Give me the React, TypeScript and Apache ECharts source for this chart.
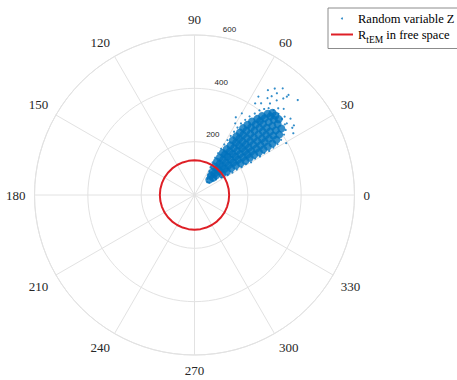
import React, { useEffect, useRef } from "react";
import * as echarts from "echarts";

// ---- data ----
const angleTickStep = 30;
const radiusMax = 600;
const radiusTickStep = 200;
const rTEM = 130; // radius of R_tEM circle in free space
const circleAngles = [0, 10, 20, 30, 40, 50, 60, 70, 80, 90, 100, 110, 120, 130, 140, 150, 160, 170, 180, 190, 200, 210, 220, 230, 240, 250, 260, 270, 280, 290, 300, 310, 320, 330, 340, 350, 360];

// dense core of the random variable Z cloud: [radius, angle(deg)]
const zCore: [number, number][] = [
  [80, 46],
  [95, 43], [95, 50],
  [110, 42], [110, 47], [110, 52],
  [130, 37], [130, 43], [130, 49], [130, 55],
  [150, 36], [150, 41], [150, 46], [150, 51], [150, 56],
  [170, 36], [170, 41], [170, 46], [170, 51], [170, 56],
  [190, 35.5], [190, 40], [190, 44.5], [190, 49], [190, 53], [190, 56],
  [210, 34.5], [210, 39], [210, 43], [210, 47], [210, 51], [210, 55],
  [230, 34], [230, 38], [230, 42], [230, 46], [230, 50], [230, 54],
  [250, 34], [250, 37.5], [250, 41], [250, 44.5], [250, 48], [250, 51.5], [250, 55],
  [270, 34], [270, 37.5], [270, 41], [270, 44.5], [270, 48], [270, 51.5], [270, 54.5],
  [290, 33.5], [290, 37], [290, 40.5], [290, 44], [290, 47.5], [290, 51], [290, 54],
  [310, 33.5], [310, 37], [310, 40.5], [310, 44], [310, 47.5], [310, 51], [310, 54],
  [330, 33.5], [330, 37], [330, 40], [330, 43.5], [330, 47], [330, 50], [330, 53],
  [350, 33.5], [350, 37], [350, 40], [350, 43], [350, 46], [350, 49], [350, 52],
  [370, 34], [370, 37], [370, 40], [370, 43], [370, 46], [370, 48.5], [370, 50.5],
  [390, 35.5], [390, 38.5], [390, 41.5], [390, 44.5], [390, 47.5], [390, 49.5],
  [410, 37.5], [410, 40.5], [410, 43.5], [410, 46], [410, 48],
  [425, 42], [425, 44.5], [425, 46.5],
];

// sparse fringe and outliers of the cloud: [radius, angle(deg)]
const zFringe: [number, number][] = [
  [68, 45], [72, 40], [78, 51], [88, 38], [92, 55], [100, 36],
  [120, 33], [145, 31], [165, 30.5], [185, 31], [205, 30.5], [225, 31], [245, 30], [265, 31],
  [285, 30.5], [305, 31], [325, 30.5], [345, 31], [365, 31.5], [385, 32.5], [405, 34],
  [105, 58], [120, 60], [140, 61], [160, 61], [180, 60.5], [200, 60], [220, 59.5], [240, 59],
  [260, 58.5], [280, 58], [300, 57.5], [320, 57], [340, 56], [360, 55], [380, 53.5], [400, 52.5], [415, 51],
  [420, 35.5], [430, 38], [435, 41], [438, 44], [435, 47], [428, 49.5],
  [440, 57], [491, 51], [519, 50.4], [515, 46.8], [492, 47.4], [437, 32], [438, 37.8], [412, 56.5],
  [354, 59.9], [309, 60.4], [465, 44], [455, 53], [470, 49], [448, 41], [395, 29.5], [330, 62],
  [455, 35], [480, 55], [500, 53], [526, 42.6], [506, 46.8], [445, 50.5], [452, 46], [460, 38.5],
  [425, 54], [470, 52], [445, 34.5],
];

const nameZ = "Random variable Z";
const nameR = "R_tEM in free space";

const serif = "'Liberation Serif', 'Times New Roman', serif";
const sans = "'Liberation Sans', Arial, sans-serif";
const gridColor = "#e2e2e2";
const blue = "#0072BD";
const red = "#de1f26";

export default function App() {
  const ref = useRef<HTMLDivElement>(null);
  useEffect(() => {
    if (!ref.current) return;
    const chart = echarts.init(ref.current, null, { renderer: "svg" });
    const circleData = circleAngles.map((a) => [rTEM, a]);
    chart.setOption({
      animation: false,
      backgroundColor: "#fff",
      polar: [
        { center: [194.5, 195], radius: 160 },
        { center: [194.5, 195], radius: [9, 169] },
      ],
      angleAxis: [
        {
          polarIndex: 0,
          type: "value",
          min: 0,
          max: 360,
          interval: angleTickStep,
          startAngle: 0,
          clockwise: false,
          axisLine: { lineStyle: { color: gridColor, width: 1 } },
          axisTick: { show: false },
          splitLine: { lineStyle: { color: gridColor, width: 1 } },
          axisLabel: {
            margin: 9,
            align: "center",
            verticalAlign: "middle",
            fontFamily: serif,
            fontSize: 13,
            color: "#262626",
            formatter: (v: number) => (v === 360 ? "" : String(v)),
          },
        },
        {
          polarIndex: 1,
          type: "value",
          min: 0,
          max: 360,
          startAngle: 81,
          show: false,
        },
      ],
      radiusAxis: [
        {
          polarIndex: 0,
          type: "value",
          min: 0,
          max: radiusMax,
          interval: radiusTickStep,
          axisLine: { show: false },
          axisTick: { show: false },
          axisLabel: { show: false },
          splitLine: { lineStyle: { color: gridColor, width: 1 } },
        },
        {
          polarIndex: 1,
          type: "value",
          min: 0,
          max: radiusMax,
          interval: radiusTickStep,
          axisLine: { show: false },
          axisTick: { show: false },
          splitLine: { show: false },
          axisLabel: {
            margin: -8.7,
            align: "center",
            verticalAlign: "middle",
            fontFamily: sans,
            fontSize: 8,
            color: "#262626",
            formatter: (v: number) => (v === 0 ? "" : String(v)),
          },
        },
      ],
      legend: {
        left: 328,
        top: 8,
        orient: "vertical",
        itemWidth: 22,
        itemHeight: 2,
        itemGap: 3,
        padding: [4, 40, 4, 3],
        borderColor: "#8c8c8c",
        borderWidth: 1,
        borderRadius: 0,
        backgroundColor: "#fff",
        textStyle: {
          fontFamily: serif,
          fontSize: 12.5,
          color: "#000",
          rich: {
            r: { fontFamily: serif, fontSize: 12.5, color: "#000" },
            s: { fontFamily: serif, fontSize: 9.5, color: "#000", padding: [10, 0, 0, 0] },
          },
        },
        formatter: (n: string) => (n === nameR ? "{r|R}{s|tEM}{r| in free space}" : n),
        data: [
          { name: nameZ, icon: "circle" },
          { name: nameR, icon: "rect" },
        ],
      },
      series: [
        {
          name: nameZ,
          type: "scatter",
          coordinateSystem: "polar",
          polarIndex: 0,
          symbol: "circle",
          symbolSize: 8,
          itemStyle: { color: blue },
          data: zCore,
          z: 3,
        },
        {
          name: nameZ,
          type: "scatter",
          coordinateSystem: "polar",
          polarIndex: 0,
          symbol: "circle",
          symbolSize: 2.2,
          itemStyle: { color: blue },
          data: zFringe,
          z: 3,
        },
        {
          name: nameR,
          type: "line",
          coordinateSystem: "polar",
          polarIndex: 0,
          symbol: "none",
          lineStyle: { color: red, width: 2 },
          itemStyle: { color: red },
          data: circleData,
          z: 4,
        },
      ],
    });
    return () => chart.dispose();
  }, []);
  return (
    <div
      ref={ref}
      style={{ position: "fixed", left: 0, top: 0, width: 457, height: 380 }}
    />
  );
}
